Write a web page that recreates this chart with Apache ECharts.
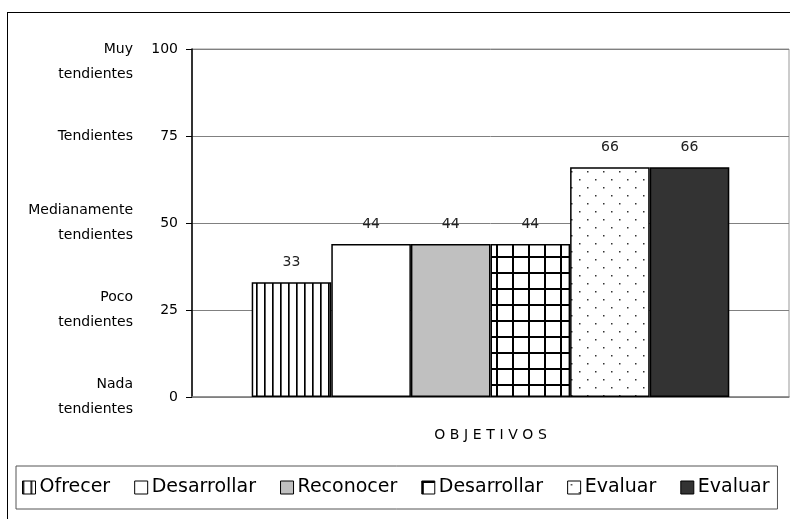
<!DOCTYPE html>
<html>
<head>
<meta charset="utf-8">
<script src="https://cdn.jsdelivr.net/npm/echarts@6/dist/echarts.min.js"></script>
<style>
html,body{margin:0;padding:0;background:#fff;overflow:hidden;}
#wrap{position:relative;width:790px;height:519px;overflow:hidden;}
#chart{position:absolute;left:0;top:0;width:790px;height:519px;}
#frame{position:absolute;left:7px;top:12px;width:820px;height:540px;border:1px solid #000;pointer-events:none;z-index:5;}
</style>
</head>
<body>
<div id="wrap"><div id="chart"></div><div id="frame"></div></div>
<script>
const categories = ['OBJETIVOS'];
const seriesNames = ['Ofrecer', 'Desarrollar', 'Reconocer', 'Desarrollar\u200b', 'Evaluar', 'Evaluar\u200b'];
const seriesValues = [33, 44, 44, 44, 66, 66];
const yTicks = [0, 25, 50, 75, 100];
const yLevelLabels = {
  0: 'Nada\ntendientes',
  25: 'Poco\ntendientes',
  50: 'Medianamente\ntendientes',
  75: 'Tendientes',
  100: ' \nMuy\ntendientes'
};

function makePattern(kind) {
  const c = document.createElement('canvas');
  const ctx = c.getContext('2d');
  if (kind === 'vlines') {
    c.width = 8; c.height = 8;
    ctx.fillStyle = '#fff'; ctx.fillRect(0, 0, 8, 8);
    ctx.fillStyle = '#000'; ctx.fillRect(0, 0, 1, 8);
    ctx.fillStyle = '#555'; ctx.fillRect(1, 0, 1, 8);
  } else if (kind === 'grid') {
    c.width = 16; c.height = 16;
    ctx.fillStyle = '#fff'; ctx.fillRect(0, 0, 16, 16);
    ctx.fillStyle = '#000';
    ctx.fillRect(0, 0, 2, 16);
    ctx.fillRect(0, 0, 16, 2);
  } else if (kind === 'dots') {
    c.width = 16; c.height = 16;
    ctx.fillStyle = '#fff'; ctx.fillRect(0, 0, 16, 16);
    ctx.fillStyle = '#333';
    ctx.fillRect(3, 3, 1.5, 1.5);
    ctx.fillRect(11, 11, 1.5, 1.5);
  }
  return { image: c, repeat: 'repeat' };
}

const fills = [
  makePattern('vlines'),
  '#ffffff',
  '#c0c0c0',
  makePattern('grid'),
  makePattern('dots'),
  '#333333'
];

const chart = echarts.init(document.getElementById('chart'), null, { renderer: 'canvas' });

const series = seriesNames.map((name, i) => ({
  name: name,
  type: 'bar',
  data: [seriesValues[i]],
  barGap: '0%',
  barCategoryGap: '20%',
  itemStyle: { color: fills[i], borderColor: '#000', borderWidth: 1.5 },
  label: {
    show: true, position: 'top', distance: 13,
    color: '#222', fontSize: 14, fontFamily: 'DejaVu Sans'
  },
  emphasis: { disabled: true }
}));

chart.setOption({
  backgroundColor: '#fff',
  animation: false,
  grid: { left: 192, right: 1, top: 49, bottom: 122, show: true, borderColor: '#999', borderWidth: 1 },
  legend: {
    left: 16, top: 466,
    padding: [12, 8, 12, 6],
    itemGap: 24,
    itemWidth: 13, itemHeight: 13,
    icon: 'rect',
    borderColor: '#555', borderWidth: 1,
    itemStyle: { borderWidth: 1, borderColor: '#000' },
    textStyle: { fontSize: 19, fontFamily: 'DejaVu Sans', color: '#000', padding: [0, 0, 0, -1] },
    formatter: n => n.replace('\u200b', ''),
    data: seriesNames
  },
  xAxis: {
    type: 'category',
    data: categories,
    axisLine: { lineStyle: { color: '#808080', width: 1.5 } },
    axisTick: { show: false },
    axisLabel: { margin: 31, fontSize: 14, color: '#000', fontFamily: 'DejaVu Sans', formatter: v => v.split('').join('\u2004') }
  },
  yAxis: [
    {
      type: 'value', min: 0, max: 100, interval: 25,
      axisLine: { show: true, lineStyle: { color: '#000', width: 1.5 } },
      axisTick: { show: true, length: 6, lineStyle: { color: '#000' } },
      axisLabel: { margin: 14, fontSize: 14, color: '#000', fontFamily: 'DejaVu Sans' },
      splitLine: { lineStyle: { color: '#808080', width: 1 } }
    },
    {
      type: 'value', min: 0, max: 100, interval: 25, position: 'left',
      axisLine: { show: false }, axisTick: { show: false }, splitLine: { show: false },
      axisLabel: {
        margin: 59, fontSize: 14, color: '#000', fontFamily: 'DejaVu Sans', lineHeight: 25, align: 'right',
        formatter: v => yLevelLabels[v] || ''
      }
    }
  ],
  series: series
});
</script>
</body>
</html>
